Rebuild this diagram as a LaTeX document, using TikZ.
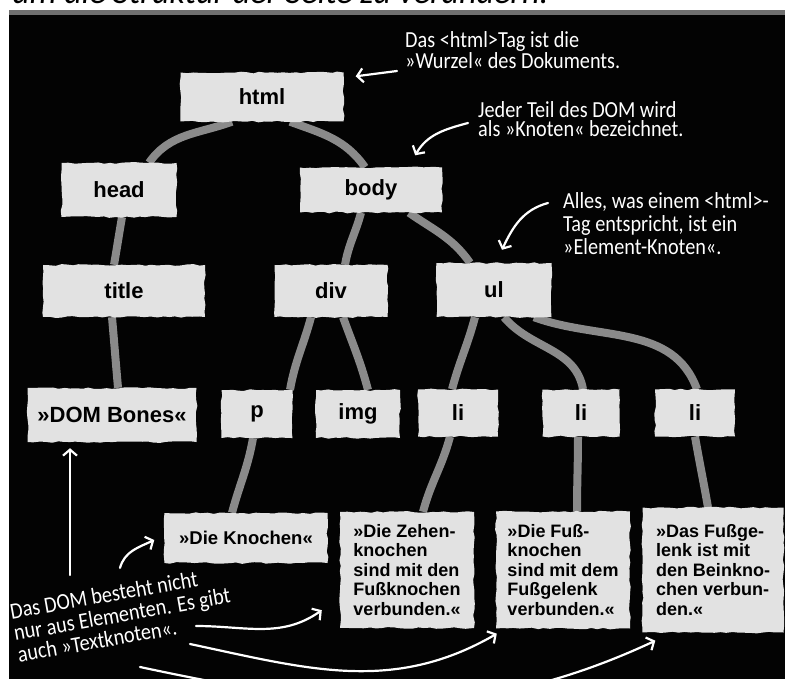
\documentclass[tikz,border=0pt]{standalone}
\usepackage{fontspec}
\usepackage{tikz}
\usetikzlibrary{arrows.meta,backgrounds,decorations.pathmorphing}
\newfontfamily\tagfont{Liberation Sans}
\newfontfamily\handfont{Carlito}[FakeStretch=0.88]
\newfontfamily\leadfont{Carlito}
\definecolor{domboard}{HTML}{030303}
\definecolor{dombox}{HTML}{E2E2E2}
\definecolor{dombone}{HTML}{8A8A8A}
\definecolor{domrule}{HTML}{707070}

\begin{document}
\begin{tikzpicture}[x=1pt,y=1pt, every node/.style={align=center}]
\tikzset{tag/.style={fill=dombox,decorate,decoration={random steps,segment length=6pt,amplitude=0.9pt},font=\tagfont\bfseries\fontsize{22}{24}\selectfont,inner sep=0pt},
  leaf/.style={tag,align=left,font=\tagfont\bfseries\fontsize{18}{19.5}\selectfont},
  bone/.style={draw=dombone,line width=8pt},
  note/.style={text=white,align=left,inner sep=0pt,font=\handfont\fontsize{23}{19}\selectfont},
  hint/.style={draw=white,line width=2.2pt,line cap=round,-{Straight Barb[length=6pt,width=14pt]}}}
\pgfmathsetseed{3}
\useasboundingbox (0,0) rectangle (785,-679);
\node[anchor=base west,inner sep=0pt,font=\leadfont\itshape\fontsize{34}{34}\selectfont] (lead) at (12,-4) {um die Struktur der Seite zu verändern.};
% element nodes
\node[tag,minimum width=163pt,minimum height=49pt] (html) at (262,-97) {html};
\node[tag,minimum width=115pt,minimum height=54pt] (head) at (119,-190) {head};
\node[tag,minimum width=142pt,minimum height=45pt] (body) at (371,-190) {body};
\node[tag,minimum width=162pt,minimum height=52pt] (title) at (124,-291) {title};
\node[tag,minimum width=113pt,minimum height=52pt] (div) at (331,-291) {div};
\node[tag,minimum width=115pt,minimum height=54pt] (ul) at (494,-290) {ul};
\node[tag,minimum width=169pt,minimum height=54pt] (bones) at (112,-415) {»DOM Bones«};
\node[tag,minimum width=71pt,minimum height=48pt] (p) at (257,-414) {p};
\node[tag,minimum width=84pt,minimum height=48pt] (img) at (358,-414) {img};
\node[tag,minimum width=80pt,minimum height=47pt] (li1) at (458,-413) {li};
\node[tag,minimum width=77pt,minimum height=47pt] (li2) at (581,-413) {li};
\node[tag,minimum width=80pt,minimum height=47pt] (li3) at (695,-413) {li};
% text nodes
\node[leaf,align=center,font=\tagfont\bfseries\fontsize{18.5}{20}\selectfont,minimum width=163pt,minimum height=50pt] (knochen) at (246,-538) {»Die Knochen«};
\node[leaf,minimum width=134pt,minimum height=116pt] (zehen) at (407,-570) {»Die Zehen-\\knochen\\sind mit den\\Fußknochen\\verbunden.«};
\node[leaf,minimum width=134pt,minimum height=117pt] (fuss) at (563,-570) {»Die Fuß-\\knochen\\sind mit dem\\Fußgelenk\\verbunden.«};
\node[leaf,minimum width=141pt,minimum height=125pt] (gelenk) at (713,-570) {»Das Fußge-\\lenk ist mit\\den Beinkno-\\chen verbun-\\den.«};
% notes
\node[note,anchor=north west] (root) at (405,-31) {Das <html>Tag ist die\\»Wurzel« des Dokuments.};
\node[note,anchor=north west] (part) at (478,-101) {Jeder Teil des DOM wird\\als »Knoten« bezeichnet.};
\node[note,anchor=north west,font=\handfont\fontsize{23}{23}\selectfont] (elem) at (563,-192) {Alles, was einem <html>-\\Tag entspricht, ist ein\\»Element-Knoten«.};
\node[note,rotate=10,font=\handfont\fontsize{23}{22}\selectfont] (textk) at (122,-614) {Das DOM besteht nicht\\nur aus Elementen. Es gibt\\auch »Textknoten«.};
\coordinate (w1) at (397,-71);
\coordinate (w2) at (468,-123);
\coordinate (w3) at (548,-203);
\coordinate (w4) at (70,-575);
\coordinate (w5) at (120,-568);
\coordinate (w6) at (196,-626);
\coordinate (w7) at (190,-644);
\coordinate (w8) at (140,-667);
\draw[hint] (w1) -- ([shift={(12,-4)}]html.north east);
\draw[hint] (w2) to[out=195,in=60] ([shift={(-27,12)}]body.north east);
\draw[hint] (w3) to[out=195,in=65] ([shift={(8,13)}]ul.north);
\draw[hint] (w4) -- ([shift={(-42,-6)}]bones.south);
\draw[hint] (w5) to[out=75,in=205] ([shift={(-10,-2)}]knochen.west);
\draw[hint] (w6) to[out=0,in=215] ([shift={(-18,18)}]zehen.south west);
\draw[hint] (w7) to[out=-12,in=210] ([shift={(1,-5)}]fuss.south west);
\draw[hint] (w8) to[out=-12,in=205] ([shift={(13,-8)}]gelenk.south west);
\begin{scope}[on background layer]
\fill[domboard] (9,-15) rectangle (785,-679);
\fill[domrule] (9,-10) rectangle (785,-15);
\draw[bone] ([xshift=-30pt]html.south) to[out=200,in=55] ([xshift=30pt]head.north);
\draw[bone] ([xshift=28pt]html.south) to[out=-20,in=125] ([xshift=-6pt]body.north);
\draw[bone] ([xshift=3pt]head.south) to[out=-100,in=80] ([xshift=-10pt]title.north);
\draw[bone] ([xshift=-10pt]body.south) to[out=-105,in=80] ([xshift=14pt]div.north);
\draw[bone] ([xshift=38pt]body.south) to[out=-35,in=125] ([xshift=-24pt]ul.north);
\draw[bone] ([xshift=-12pt]title.south) to[out=-85,in=95] ([xshift=6pt]bones.north);
\draw[bone] ([xshift=-20pt]div.south) to[out=-105,in=80] ([xshift=33pt]p.north);
\draw[bone] ([xshift=12pt]div.south) to[out=-70,in=105] ([xshift=10pt]img.north);
\draw[bone] ([xshift=-19pt]ul.south) to[out=-105,in=75] ([xshift=-6pt]li1.north);
\draw[bone] ([xshift=10pt]ul.south) to[out=-50,in=100] ([xshift=2pt]li2.north);
\draw[bone] ([xshift=40pt]ul.south) to[out=-20,in=110] ([xshift=2pt]li3.north);
\draw[bone] ([xshift=-4pt]p.south) to[out=-100,in=75] ([xshift=-14pt]knochen.north);
\draw[bone] ([xshift=-8pt]li1.south) to[out=-105,in=75] ([xshift=16pt]zehen.north);
\draw[bone] ([xshift=-3pt]li2.south) to[out=-90,in=90] ([xshift=14pt]fuss.north);
\draw[bone] (li3.south) to[out=-80,in=100] ([xshift=-5pt]gelenk.north);
\end{scope}
\end{tikzpicture}
\end{document}
